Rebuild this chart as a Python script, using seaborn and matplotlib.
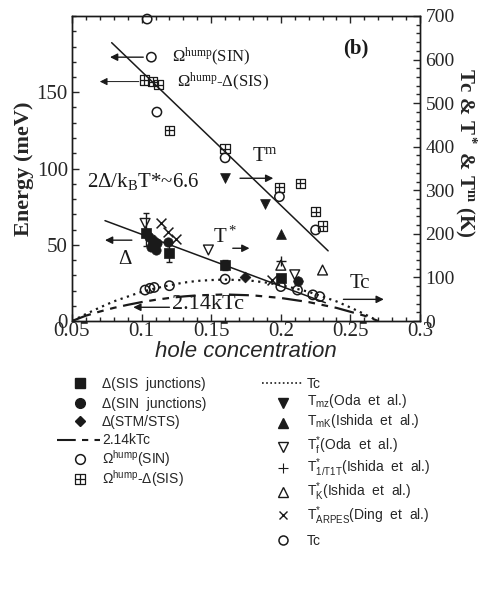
import matplotlib
matplotlib.use("Agg")
import matplotlib.pyplot as plt
import seaborn as sns
from matplotlib.path import Path
from matplotlib.lines import Line2D
from matplotlib.ticker import MultipleLocator

# ---------------- data (energies in meV, temperatures in K) ----------------
x_sis = [0.103, 0.108, 0.120, 0.160, 0.200]
e_sis = [58, 50, 44.5, 36.7, 28]
x_sin = [0.105, 0.107, 0.110, 0.111, 0.119, 0.212]
e_sin = [55, 48.7, 46.6, 51, 52, 26]
x_stm = [0.104, 0.109, 0.174]
e_stm = [57, 53, 29]
x_hump_sin = [0.104, 0.107, 0.111, 0.160, 0.199, 0.225]
e_hump_sin = [198, 173, 137, 107, 81.5, 59.7]
x_hump_sis = [0.102, 0.108, 0.112, 0.120, 0.160, 0.199, 0.214, 0.225, 0.230]
e_hump_sis = [158, 157, 155, 125, 113, 87.7, 90.3, 71.7, 62.3]
x_err = [0.103, 0.120, 0.160]
e_err = [60, 44.5, 36.7]
e_err_size = [11, 5.5, 3.5]

x_tm_line = [0.0785, 0.234]
e_tm_line = [182.5, 46]
x_gap_line = [0.0737, 0.232]
e_gap_line = [65.8, 12]
x_214 = [0.05, 0.06, 0.07, 0.08, 0.09, 0.10, 0.11, 0.12, 0.13, 0.14, 0.16,
         0.18, 0.20, 0.22, 0.24, 0.26, 0.27]
e_214 = [0, 3.5, 6.2, 8.6, 10.6, 12.4, 13.9, 15.1, 16.1, 16.8, 17.4,
         16.8, 15.1, 12.4, 8.6, 3.5, 0]
x_tc_curve = [0.05, 0.06, 0.07, 0.08, 0.09, 0.10, 0.11, 0.12, 0.13, 0.14, 0.15, 0.16,
              0.17, 0.18, 0.19, 0.20, 0.21, 0.22, 0.23, 0.24, 0.25, 0.26, 0.27]
t_tc_curve = [0, 16, 31, 45, 56, 67, 75, 82, 88, 92, 94, 95,
              94, 92, 88, 82, 75, 67, 56, 45, 31, 16, 0]

x_tmz = [0.160, 0.189]
t_tmz = [328, 268]
x_tmk = [0.200]
t_tmk = [200]
x_tf = [0.1025, 0.148, 0.210]
t_tf = [224, 163, 106]
x_t1 = [0.200, 0.212]
t_t1 = [138, 92]
x_tk = [0.200, 0.230]
t_tk = [128, 117]
x_arpes = [0.114, 0.119, 0.125, 0.1935]
t_arpes = [224, 205, 189, 95]
x_tc = [0.1025, 0.106, 0.109, 0.120, 0.160, 0.200, 0.212, 0.223, 0.228]
t_tc = [71, 75, 77, 81, 96, 79, 71, 60, 56]

x_ticks = [0.05, 0.1, 0.15, 0.2, 0.25, 0.3]
x_ticklabels = ["0.05", "0.1", "0.15", "0.2", "0.25", "0.3"]
e_ticks = [0, 50, 100, 150]
t_ticks = [0, 100, 200, 300, 400, 500, 600, 700]

left_labels = ["Δ(SIS  junctions)", "Δ(SIN  junctions)", "Δ(STM/STS)", "2.14kTc",
               "Ω$^{hump}$(SIN)", "Ω$^{hump}$-Δ(SIS)"]
right_labels = ["Tc", "T$_{mz}$(Oda  et  al.)", "T$_{mK}$(Ishida  et  al.)",
                "T$^{*}_{f}$(Oda  et  al.)", "T$^{*}_{1/T1T}$(Ishida  et  al.)",
                "T$^{*}_{K}$(Ishida  et  al.)", "T$^{*}_{ARPES}$(Ding  et  al.)", "Tc"]

# ---------------- style ----------------
sns.set_theme(style="ticks")
plt.rcParams["font.family"] = ["Liberation Serif", "DejaVu Serif"]
plt.rcParams["mathtext.default"] = "regular"

SERIF = "Liberation Serif"
SANS = "Liberation Sans"
W, H = 480, 590

boxplus = Path([(-1, -1), (1, -1), (1, 1), (-1, 1), (-1, -1),
                (0, -1), (0, 1), (-1, 0), (1, 0)],
               [Path.MOVETO, Path.LINETO, Path.LINETO, Path.LINETO, Path.CLOSEPOLY,
                Path.MOVETO, Path.LINETO, Path.MOVETO, Path.LINETO])
DASH214 = (9, 3, 3, 3, 3, 3)

fig = plt.figure(figsize=(4.8, 5.9), dpi=100)
ax = fig.add_axes([72 / W, 1 - 321 / H, 348 / W, 305 / H])
ax2 = ax.twinx()

# lines
sns.lineplot(x=x_tm_line, y=e_tm_line, ax=ax, color="k", lw=1.1, sort=False, estimator=None)
sns.lineplot(x=x_gap_line, y=e_gap_line, ax=ax, color="k", lw=1.1, sort=False, estimator=None)
sns.lineplot(x=x_214, y=e_214, ax=ax, color="k", lw=1.6, sort=False, estimator=None,
             dashes=False, linestyle=(0, DASH214))
sns.lineplot(x=x_tc_curve, y=t_tc_curve, ax=ax2, color="k", lw=1.6, sort=False,
             estimator=None, linestyle=(0, (1, 2)))

# energy points
ax.errorbar(x_err, e_err, yerr=e_err_size, fmt="none", ecolor="k", elinewidth=1, capsize=2)
sns.scatterplot(x=x_sis, y=e_sis, ax=ax, marker="s", s=45, color="k", edgecolor="k", linewidth=0.5, zorder=4)
sns.scatterplot(x=x_sin, y=e_sin, ax=ax, marker="o", s=45, color="k", edgecolor="k", linewidth=0.5, zorder=4)
sns.scatterplot(x=x_stm, y=e_stm, ax=ax, marker="D", s=30, color="k", edgecolor="k", linewidth=0.5, zorder=4)
sns.scatterplot(x=x_hump_sin, y=e_hump_sin, ax=ax, marker="o", s=45, facecolor="none",
                edgecolor="k", linewidth=1.1, zorder=4, clip_on=False)
sns.scatterplot(x=x_hump_sis, y=e_hump_sis, ax=ax, marker=boxplus, s=45, facecolor="none",
                edgecolor="k", linewidth=0.9, zorder=4)

# temperature points
sns.scatterplot(x=x_tmz, y=t_tmz, ax=ax2, marker="v", s=50, color="k", edgecolor="k", linewidth=0.5)
sns.scatterplot(x=x_tmk, y=t_tmk, ax=ax2, marker="^", s=50, color="k", edgecolor="k", linewidth=0.5)
sns.scatterplot(x=x_tf, y=t_tf, ax=ax2, marker="v", s=50, facecolor="none", edgecolor="k", linewidth=1)
sns.scatterplot(x=x_t1, y=t_t1, ax=ax2, marker="+", s=60, color="k", linewidth=1)
sns.scatterplot(x=x_tk, y=t_tk, ax=ax2, marker="^", s=50, facecolor="none", edgecolor="k", linewidth=1)
sns.scatterplot(x=x_arpes, y=t_arpes, ax=ax2, marker="x", s=50, color="k", linewidth=1.1)
sns.scatterplot(x=x_tc, y=t_tc, ax=ax2, marker="o", s=45, facecolor="none", edgecolor="k", linewidth=1.1)

# axes
ax.set_xlim(0.05, 0.3)
ax.set_ylim(0, 200)
ax2.set_ylim(0, 700)
ax.set_xticks(x_ticks)
ax.set_xticklabels(x_ticklabels)
ax.set_yticks(e_ticks)
ax.xaxis.set_minor_locator(MultipleLocator(0.01))
ax.yaxis.set_minor_locator(MultipleLocator(10))
ax2.set_yticks(t_ticks)
ax2.yaxis.set_minor_locator(MultipleLocator(20))
ax.tick_params(which="both", direction="in", top=True, right=False, labelsize=15, width=1)
ax.tick_params(which="major", length=5)
ax.tick_params(which="minor", length=3)
ax.tick_params(axis="x", pad=1)
ax.tick_params(axis="y", pad=3)
ax2.tick_params(which="both", direction="in", labelsize=14, width=1, pad=4)
ax2.tick_params(which="major", length=5)
ax2.tick_params(which="minor", length=3)
for a in (ax, ax2):
    for sp in a.spines.values():
        sp.set_linewidth(1)
        sp.set_color("k")
    a.set_xlabel("")
    a.set_ylabel("")

ax.set_xlabel("hole concentration", family=SANS, style="italic", fontsize=16, labelpad=0)
ax.set_ylabel("Energy (meV)", family=SERIF, weight="bold", fontsize=16, labelpad=2)
ax2.set_ylabel("Tc & T$^*$ & T$^m$ (K)", family=SERIF, weight="bold", fontsize=15,
               rotation=-90, va="center", ha="center")
ax2.yaxis.set_label_coords((466 - 72) / 348, 0.55)

# annotations
arrow = dict(arrowstyle="-|>", color="k", lw=1, mutation_scale=11, shrinkA=0, shrinkB=0)
tkw = dict(family=SERIF, color="k")
ax.text(0.254, 179, "(b)", fontsize=15, ha="center", va="center", weight="bold", **tkw)
ax.annotate("", xy=(0.0773, 173), xytext=(0.1012, 173), arrowprops=arrow)
ax.text(0.1216, 173, "Ω$^{hump}$(SIN)", fontsize=12, ha="left", va="center", **tkw)
ax.annotate("", xy=(0.070, 157), xytext=(0.098, 157), arrowprops=dict(arrow, lw=0.7))
ax.text(0.1257, 157, "Ω$^{hump}$-Δ(SIS)", fontsize=12, ha="left", va="center", **tkw)
ax.text(0.061, 91.3, "2Δ/k$_B$T*~6.6", fontsize=15, ha="left", va="center", **tkw)
ax.text(0.189, 108, "T$^m$", fontsize=15, ha="center", va="center", **tkw)
ax.annotate("", xy=(0.1946, 93.6), xytext=(0.1707, 93.6), arrowprops=arrow)
ax.text(0.160, 55, "T$^*$", fontsize=15, ha="center", va="center", **tkw)
ax.annotate("", xy=(0.1775, 47.7), xytext=(0.1655, 47.7), arrowprops=arrow)
ax.annotate("", xy=(0.0737, 53), xytext=(0.093, 53), arrowprops=arrow)
ax.text(0.088, 40, "Δ", fontsize=15, ha="center", va="center", **tkw)
ax.annotate("", xy=(0.094, 9), xytext=(0.120, 9), arrowprops=arrow)
ax.text(0.1216, 10.5, "2.14kTc", fontsize=16, ha="left", va="center", **tkw)
ax.text(0.257, 24.7, "Tc", fontsize=15, ha="center", va="center", **tkw)
ax.annotate("", xy=(0.274, 14.2), xytext=(0.245, 14.2), arrowprops=arrow)

# ---------------- legend (placed row by row) ----------------
def fx(px):
    return px / W


def fy(py):
    return 1 - py / H


lkw = dict(color="k", ls="none", transform=fig.transFigure)
left_styles = [
    dict(marker="s", ms=7),
    dict(marker="o", ms=7),
    dict(marker="D", ms=5.5),
    None,
    dict(marker="o", ms=7, mfc="none", mew=1.1),
    dict(marker=boxplus, ms=7, mfc="none", mew=0.9),
]
left_rows = [383, 402.7, 421, 439.5, 459, 479]
for lab, st, yy in zip(left_labels, left_styles, left_rows):
    if st is None:
        fig.add_artist(Line2D([fx(57), fx(100)], [fy(yy), fy(yy)], color="k", lw=1.5,
                              dashes=DASH214, transform=fig.transFigure))
    else:
        fig.add_artist(Line2D([fx(80)], [fy(yy)], **st, **lkw))
    fig.text(fx(102), fy(yy + 5), lab, family=SANS, fontsize=10, ha="left", va="baseline")

right_styles = [
    None,
    dict(marker="v", ms=6.5),
    dict(marker="^", ms=6.5),
    dict(marker="v", ms=6.5, mfc="none", mew=1),
    dict(marker="+", ms=7, mew=0.8),
    dict(marker="^", ms=6.5, mfc="none", mew=1),
    dict(marker="x", ms=6, mew=1),
    dict(marker="o", ms=6.5, mfc="none", mew=1.1),
]
right_rows = [383, 402.7, 423, 447, 468, 491.7, 515, 540]
right_text_rows = [383, 400.5, 420.5, 445, 467, 490.7, 515, 540]
for lab, st, yy, ty in zip(right_labels, right_styles, right_rows, right_text_rows):
    if st is None:
        fig.add_artist(Line2D([fx(262), fx(303)], [fy(yy), fy(yy)], color="k", lw=1.2,
                              ls=(0, (1, 1.5)), transform=fig.transFigure))
    else:
        fig.add_artist(Line2D([fx(283)], [fy(yy)], **st, **lkw))
    fig.text(fx(307), fy(ty + 5), lab, family=SANS, fontsize=10, ha="left", va="baseline")

fig.savefig("out.png", dpi=100)
